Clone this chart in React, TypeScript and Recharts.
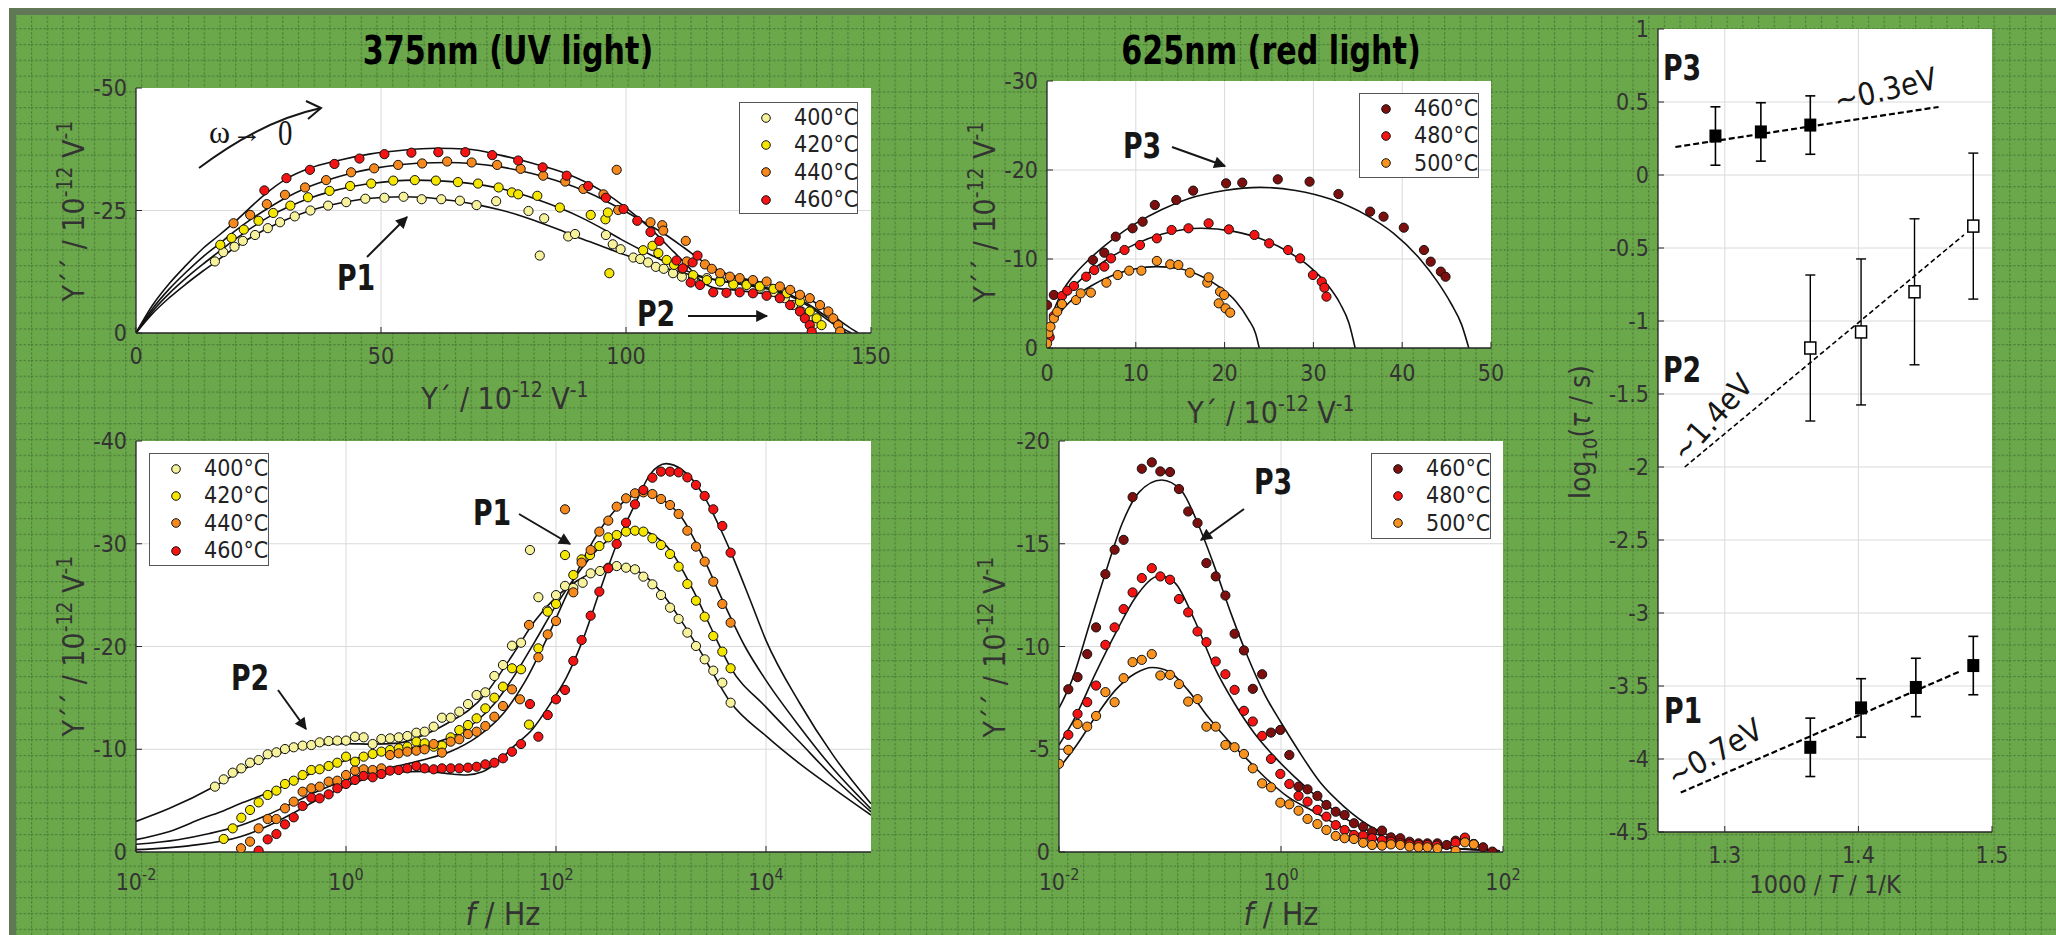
import React from 'react';
import {
  ComposedChart,
  Scatter,
  Line,
  XAxis,
  YAxis,
  ReferenceLine,
  Legend,
  ErrorBar,
  CartesianGrid,
} from 'recharts';

const NARROW = "'Liberation Sans Narrow', 'Arial Narrow', 'DejaVu Sans Condensed', sans-serif";
const SERIF = "'Liberation Serif', 'DejaVu Serif', serif";
const INK = '#161616';
const TICK = '#333';
const GRID = '#dadada';

// ---------- series meta ----------
const uvTemps = ['400°C', '420°C', '440°C', '460°C'];
const uvColors = ['#f6f29c', '#f4e600', '#f5891e', '#f41414'];
const redTemps = ['460°C', '480°C', '500°C'];
const redColors = ['#7d0f0f', '#f41414', '#f7931e'];

// ---------- 375 nm, Nyquist: [Y', Y''] / 1e-12 V^-1 ----------
const nyqUv400 = [[16.1,-14.6],[17.8,-16.5],[20.1,-17.6],[21.8,-18.8],[24.3,-20.0],[26.9,-21.4],[29.4,-22.6],[32.4,-23.8],[35.6,-25.0],[39.2,-26.0],[42.9,-26.7],[46.8,-27.4],[50.7,-27.6],[54.6,-27.8],[58.3,-27.3],[62.3,-27.3],[66.1,-27.0],[69.5,-26.1],[73.5,-26.9],[80.1,-24.9],[83.3,-23.4],[82.4,-15.8],[88.2,-19.7],[89.6,-20.2],[95.9,-20.0],[97.3,-18.1],[98.9,-17.1],[101.5,-15.4],[102.9,-15.1],[104.5,-14.4],[106.1,-13.5],[107.7,-13.1],[109.6,-12.2],[111.4,-11.5],[113.7,-11.2],[116.5,-11.2],[119.2,-10.8],[121.9,-10.3],[124.6,-9.9],[127.3,-9.1],[130.1,-8.4],[132.4,-7.1],[134.1,-5.7],[135.8,-4.4],[137.2,-3.0],[138.2,-1.6]];
const nyqUv420 = [[17.2,-18.0],[19.5,-19.4],[22.0,-21.1],[25.0,-22.9],[28.0,-24.5],[31.5,-26.0],[35.1,-27.7],[39.5,-29.0],[43.7,-30.0],[48.0,-30.5],[52.5,-31.1],[56.9,-31.2],[61.2,-31.1],[65.7,-30.8],[69.8,-30.5],[74.0,-29.7],[76.7,-28.7],[78.0,-28.3],[81.9,-28.0],[86.5,-25.6],[92.8,-24.1],[95.8,-23.2],[96.3,-24.6],[96.6,-12.2],[103.5,-16.9],[105.4,-17.8],[106.6,-16.3],[108.3,-14.9],[109.8,-13.9],[111.5,-13.1],[113.7,-11.8],[116.5,-10.8],[119.2,-10.5],[121.9,-9.9],[124.6,-9.8],[127.3,-9.5],[130.1,-9.0],[132.8,-8.1],[135.5,-6.4],[137.5,-4.4],[138.9,-3.0],[139.9,-1.6]];
const nyqUv440 = [[19.9,-22.4],[23.3,-24.1],[26.7,-26.3],[30.4,-28.2],[34.5,-29.7],[38.8,-31.2],[43.9,-32.8],[48.6,-33.6],[53.5,-34.3],[58.4,-34.6],[63.5,-35.0],[68.5,-34.8],[73.7,-34.3],[78.5,-33.5],[83.1,-32.1],[87.6,-30.9],[91.3,-29.4],[95.4,-28.3],[98.1,-33.3],[98.4,-25.1],[105.0,-22.6],[107.4,-22.0],[107.6,-20.9],[112.2,-18.8],[112.4,-14.6],[116.1,-14.0],[117.5,-13.1],[119.2,-12.2],[121.2,-11.5],[123.2,-11.2],[125.9,-10.8],[128.7,-10.5],[131.4,-9.5],[133.5,-8.8],[135.5,-7.8],[137.5,-7.1],[139.6,-5.7],[141.3,-4.4],[142.3,-3.0],[143.3,-1.6],[143.7,-0.3]];
const nyqUv460 = [[26.2,-29.1],[30.7,-31.6],[35.5,-33.3],[40.5,-34.5],[45.6,-35.6],[50.7,-36.5],[56.2,-36.8],[61.7,-36.9],[67.2,-36.9],[72.7,-36.3],[78.0,-35.2],[83.0,-33.8],[87.9,-32.1],[92.3,-30.0],[95.9,-27.6],[99.5,-25.3],[102.3,-22.9],[105.0,-20.6],[106.8,-18.8],[110.3,-14.8],[111.6,-13.2],[113.2,-10.3],[113.6,-14.4],[114.6,-15.8],[115.1,-9.8],[117.8,-8.3],[120.5,-8.2],[123.2,-8.3],[125.9,-8.1],[128.7,-7.6],[131.4,-7.1],[133.5,-5.7],[135.5,-4.4],[136.5,-3.0],[137.5,-1.6],[137.9,-0.3]];

const fitNyqUv400 = [[0,0],[3.4,-4.0],[6.8,-7.2],[10.2,-10.0],[13.6,-12.6],[16.1,-14.4],[20,-17.3],[24.3,-20.0],[29.4,-22.6],[35.6,-25.0],[42.9,-26.8],[50.7,-27.7],[54.6,-27.8],[58.3,-27.7],[62.3,-27.3],[66.1,-26.8],[70,-26.1],[74,-25.2],[78,-24.1],[82,-22.7],[86,-21.2],[90,-19.6],[94,-18.1],[98,-16.6],[102,-15.2],[106,-13.9],[110,-12.7],[114,-11.7],[118,-10.9],[122,-10.2],[126,-9.5],[130,-8.7],[134,-7.3],[138,-5.0],[141,-2.8],[143.5,-1.0],[145,0]];
const fitNyqUv420 = [[0,0],[3.4,-4.5],[6.8,-8.1],[10.2,-11.2],[13.6,-14.0],[17.2,-16.8],[19.5,-18.6],[22,-20.4],[25,-22.4],[28,-24.2],[31.5,-25.9],[35.1,-27.4],[39.5,-28.8],[43.7,-29.8],[48,-30.5],[52.5,-31.0],[56.9,-31.2],[61.2,-31.1],[65.7,-30.8],[69.8,-30.3],[74,-29.6],[78,-28.5],[82,-27.2],[86.5,-25.5],[91,-23.5],[95,-21.4],[99,-19.1],[103,-17.0],[107,-15.0],[111,-13.2],[115,-11.7],[119,-10.7],[123,-10.0],[127,-9.5],[131,-8.7],[135,-7.1],[139,-4.7],[142,-2.5],[144.5,-0.8],[146,0]];
const fitNyqUv440 = [[0,0],[3.4,-5.0],[6.8,-9.0],[10.2,-12.4],[13.6,-15.5],[17,-18.2],[19.9,-20.6],[23.3,-23.1],[26.7,-25.3],[30.4,-27.5],[34.5,-29.5],[38.8,-31.1],[43.9,-32.6],[48.6,-33.6],[53.5,-34.3],[58.4,-34.7],[63.5,-34.8],[68.5,-34.6],[73.7,-34.0],[78.5,-33.1],[83.1,-31.9],[87.6,-30.5],[91.3,-29.1],[95.4,-27.2],[98.4,-25.6],[102,-23.6],[105,-21.9],[108,-20.1],[112,-17.3],[116,-14.4],[120,-12.3],[124,-11.1],[128,-10.3],[132,-9.3],[136,-7.7],[140,-5.3],[143,-3.0],[145.5,-1.2],[147.4,0]];
const fitNyqUv460 = [[0,0],[3.4,-5.7],[6.8,-10.1],[10.2,-13.8],[13.6,-17.2],[17,-20.0],[20.4,-22.9],[26.2,-28.2],[30.6,-31.4],[35.4,-33.6],[40.8,-35.1],[47.6,-36.5],[54.4,-37.3],[61.2,-37.7],[68,-37.5],[74.3,-36.3],[81.1,-34.6],[87.9,-32.5],[94.7,-29.2],[100.1,-25.5],[104.9,-21.4],[109.7,-16.6],[112.4,-13.9],[115.1,-10.8],[118.5,-9.1],[121.9,-8.8],[125.3,-8.4],[128.7,-7.9],[132.1,-6.7],[135.5,-4.4],[137.5,-1.6],[138.5,0]];

// ---------- 375 nm, spectra: [log10(f / Hz), Y''] ----------
const bodeUv400 = [[-1.248,-6.36],[-1.165,-7.07],[-1.079,-7.72],[-0.997,-8.14],[-0.914,-8.69],[-0.832,-8.95],[-0.746,-9.51],[-0.663,-9.70],[-0.581,-10.02],[-0.498,-10.19],[-0.413,-10.35],[-0.330,-10.41],[-0.251,-10.67],[-0.165,-10.80],[-0.083,-10.84],[0.0,-10.84],[0.086,-11.22],[0.168,-11.16],[0.254,-10.51],[0.337,-11.0],[0.419,-11.06],[0.502,-11.16],[0.584,-11.29],[0.670,-11.61],[0.749,-11.71],[0.835,-12.20],[0.914,-13.07],[0.997,-13.07],[1.079,-13.66],[1.162,-14.40],[1.244,-15.28],[1.327,-15.54],[1.413,-17.13],[1.495,-18.20],[1.581,-20.08],[1.667,-20.37],[1.752,-29.39],[1.832,-24.8],[1.914,-23.5],[2.0,-25.0],[2.086,-25.9],[2.165,-25.7],[2.254,-26.2],[2.330,-27.12],[2.419,-27.35],[2.498,-27.67],[2.578,-27.83],[2.667,-27.67],[2.752,-27.51],[2.832,-26.80],[2.918,-26.05],[3.000,-25.01],[3.086,-23.78],[3.168,-22.68],[3.251,-21.35],[3.333,-20.05],[3.416,-18.75],[3.498,-17.65],[3.584,-16.48],[3.663,-14.53]];
const bodeUv420 = [[-1.165,-1.27],[-1.079,-2.30],[-0.997,-3.34],[-0.914,-4.09],[-0.832,-4.83],[-0.746,-5.55],[-0.663,-5.97],[-0.581,-6.62],[-0.498,-6.94],[-0.413,-7.49],[-0.330,-7.98],[-0.251,-8.05],[-0.165,-8.37],[-0.083,-8.69],[0.0,-9.28],[0.086,-8.79],[0.168,-9.28],[0.254,-9.54],[0.337,-9.77],[0.419,-9.93],[0.502,-10.09],[0.584,-10.25],[0.670,-10.74],[0.749,-10.58],[0.835,-10.25],[0.914,-10.35],[0.997,-11.16],[1.079,-11.87],[1.162,-12.36],[1.244,-13.01],[1.327,-13.98],[1.413,-15.02],[1.495,-16.09],[1.581,-17.88],[1.667,-17.78],[1.743,-12.4],[1.832,-19.82],[1.921,-23.39],[2.0,-24.14],[2.086,-28.90],[2.165,-26.96],[2.244,-28.48],[2.324,-28.90],[2.413,-29.78],[2.498,-30.62],[2.578,-30.85],[2.667,-31.18],[2.752,-31.27],[2.832,-31.18],[2.918,-30.53],[3.000,-29.88],[3.086,-29.00],[3.168,-27.77],[3.251,-26.08],[3.333,-24.46],[3.416,-22.90],[3.498,-21.02],[3.584,-19.50],[3.663,-17.88]];
const bodeUv440 = [[-1.0,-0.36],[-0.914,-1.01],[-0.832,-2.30],[-0.746,-3.21],[-0.663,-3.21],[-0.581,-4.25],[-0.498,-4.90],[-0.413,-5.87],[-0.330,-6.20],[-0.251,-6.36],[-0.165,-6.85],[-0.083,-6.94],[0.0,-7.49],[0.086,-7.92],[0.168,-8.05],[0.254,-7.98],[0.337,-8.14],[0.419,-9.44],[0.502,-9.60],[0.584,-9.77],[0.670,-9.86],[0.749,-9.99],[0.835,-10.51],[0.914,-9.67],[0.997,-10.74],[1.079,-10.97],[1.162,-11.48],[1.244,-11.71],[1.327,-12.26],[1.413,-13.17],[1.495,-14.21],[1.581,-15.83],[1.657,-14.86],[1.743,-22.1],[1.832,-18.95],[1.921,-21.18],[2.0,-22.48],[2.086,-33.35],[2.165,-25.27],[2.244,-28.16],[2.330,-29.39],[2.413,-31.18],[2.498,-32.25],[2.578,-33.61],[2.667,-34.42],[2.752,-34.91],[2.832,-35.0],[2.918,-34.84],[3.000,-34.36],[3.086,-33.77],[3.168,-32.90],[3.251,-31.27],[3.333,-29.72],[3.416,-28.26],[3.498,-26.31],[3.584,-24.14],[3.663,-22.32]];
const bodeUv460 = [[-0.832,-0.13],[-0.746,-1.23],[-0.663,-1.75],[-0.581,-2.69],[-0.498,-3.37],[-0.413,-4.48],[-0.330,-5.29],[-0.251,-5.22],[-0.165,-5.61],[-0.083,-6.20],[0.0,-6.62],[0.086,-7.01],[0.168,-7.40],[0.254,-7.27],[0.337,-7.59],[0.419,-7.92],[0.502,-7.98],[0.584,-8.14],[0.670,-8.37],[0.749,-8.14],[0.835,-8.05],[0.914,-8.14],[0.997,-8.14],[1.079,-8.14],[1.162,-8.21],[1.244,-8.30],[1.327,-8.53],[1.413,-8.69],[1.495,-9.12],[1.581,-9.76],[1.667,-10.51],[1.752,-14.4],[1.832,-11.22],[1.921,-13.33],[2.0,-14.86],[2.086,-15.77],[2.165,-18.59],[2.244,-20.63],[2.330,-23.00],[2.413,-25.34],[2.498,-27.61],[2.578,-29.98],[2.667,-32.05],[2.752,-33.84],[2.832,-35.23],[2.918,-36.43],[3.000,-37.02],[3.086,-37.02],[3.168,-36.95],[3.251,-36.46],[3.333,-35.72],[3.416,-34.65],[3.498,-33.35],[3.584,-31.73],[3.663,-29.13]];

const fitBodeUv400 = [[-2,-2.98],[-1.68,-4.25],[-1.25,-6.4],[-1.0,-7.9],[-0.75,-9.2],[-0.5,-10.0],[-0.25,-10.45],[0,-10.55],[0.25,-10.5],[0.5,-10.6],[0.79,-11.6],[1.02,-12.85],[1.17,-13.8],[1.33,-15.4],[1.49,-17.7],[1.62,-19.7],[1.8,-22.5],[2.0,-24.8],[2.2,-26.4],[2.4,-27.4],[2.6,-27.8],[2.8,-27.2],[3.0,-25.3],[3.2,-22.4],[3.4,-19.1],[3.66,-14.6],[4.0,-11.3],[4.32,-8.6],[4.64,-6.2],[5.0,-3.6]];
const fitBodeUv420 = [[-2,-1.2],[-1.68,-2.0],[-1.36,-3.3],[-1.17,-4.0],[-1.0,-4.75],[-0.83,-5.4],[-0.66,-6.1],[-0.41,-7.3],[-0.17,-8.3],[0,-8.9],[0.25,-9.4],[0.5,-9.9],[0.75,-10.4],[1.0,-11.2],[1.24,-12.7],[1.41,-14.4],[1.58,-16.8],[1.8,-20.5],[2.0,-24.0],[2.2,-27.0],[2.4,-29.5],[2.6,-31.0],[2.75,-31.4],[2.9,-31.0],[3.1,-29.2],[3.3,-25.6],[3.5,-21.3],[3.66,-18.0],[4.0,-14.1],[4.32,-10.7],[4.64,-7.3],[5.0,-3.9]];
const fitBodeUv440 = [[-2,-0.75],[-1.6,-1.2],[-1.3,-1.8],[-1.0,-2.6],[-0.75,-3.6],[-0.5,-4.8],[-0.25,-6.0],[0,-7.0],[0.25,-7.8],[0.5,-8.4],[0.75,-9.0],[1.0,-9.8],[1.25,-11.2],[1.5,-13.5],[1.7,-16.5],[1.9,-20.5],[2.1,-25.0],[2.3,-29.3],[2.5,-32.5],[2.7,-34.5],[2.85,-35.0],[3.0,-34.4],[3.2,-32.5],[3.4,-28.7],[3.6,-24.2],[3.8,-20.0],[4.0,-16.7],[4.32,-12.2],[4.64,-8.1],[5.0,-4.2]];
const fitBodeUv460 = [[-2,-0.23],[-1.5,-0.6],[-1.0,-1.5],[-0.75,-2.5],[-0.5,-3.8],[-0.25,-5.2],[0,-6.4],[0.25,-7.3],[0.5,-7.8],[0.75,-7.85],[0.95,-7.65],[1.15,-7.5],[1.3,-7.8],[1.47,-9.0],[1.6,-10.3],[1.78,-12.0],[1.95,-14.5],[2.1,-17.0],[2.25,-20.5],[2.42,-25.5],[2.58,-30.0],[2.75,-33.8],[2.9,-36.8],[3.05,-37.8],[3.2,-37.2],[3.4,-34.8],[3.55,-31.8],[3.66,-29.3],[3.85,-24.5],[4.0,-20.6],[4.32,-14.5],[4.64,-9.4],[5.0,-4.7]];

// ---------- 625 nm, Nyquist ----------
const nyqRed460 = [[0.01,-4.83],[0.77,-5.96],[5.17,-9.89],[6.45,-10.71],[7.74,-12.51],[9.64,-13.45],[10.77,-14.19],[12.14,-16.07],[14.56,-16.63],[16.46,-17.68],[20.17,-18.50],[21.99,-18.58],[25.99,-18.95],[29.57,-18.69],[32.82,-17.30],[36.39,-15.32],[37.9,-14.76],[40.18,-13.52],[42.45,-11.01],[43.21,-9.70],[44.35,-8.58],[44.88,-8.01]];
const nyqRed480 = [[0.3,-1.2],[0.77,-3.60],[1.68,-5.84],[2.29,-6.44],[3.04,-6.97],[4.41,-8.01],[5.32,-8.76],[6.45,-9.14],[7.21,-10.07],[8.73,-11.01],[10.47,-11.57],[12.37,-12.32],[14.03,-13.26],[15.93,-13.45],[18.20,-14.01],[20.48,-13.33],[23.36,-12.70],[25.02,-11.76],[27.15,-11.01],[28.51,-10.07],[29.95,-8.20],[30.94,-7.45],[31.24,-6.78],[31.47,-5.77]];
const nyqRed500 = [[0.01,-0.52],[0.16,-1.65],[0.39,-2.40],[0.77,-3.33],[1.15,-4.08],[1.68,-4.94],[3.27,-5.39],[3.80,-6.14],[4.94,-6.22],[6.69,-7.34],[7.97,-8.20],[9.26,-8.69],[10.63,-8.69],[12.37,-9.78],[13.88,-9.40],[14.79,-9.33],[16.08,-8.46],[18.05,-7.34],[18.20,-7.94],[19.49,-6.33],[19.95,-5.96],[19.34,-5.02],[20.10,-4.46],[20.63,-3.97]];

const fitNyqRed460 = [[0,0],[0.3,-2.5],[1,-4.8],[2,-6.8],[3.5,-8.7],[5,-10.2],[7.5,-12.3],[10,-14.0],[13,-15.6],[16,-16.8],[20,-17.7],[24,-18.05],[28,-17.7],[32,-16.7],[36,-14.9],[39,-12.9],[42,-10.0],[44,-7.4],[45.5,-5.0],[46.7,-2.6],[47.5,0]];
const fitNyqRed480 = [[0,0],[0.3,-2.2],[1,-4.2],[2,-5.8],[3.5,-7.4],[5,-8.7],[7.5,-10.4],[10,-11.7],[13,-12.8],[17.4,-13.45],[21,-13.1],[24,-12.3],[27,-10.9],[29.5,-9.2],[31.5,-7.2],[33,-5.0],[34,-2.8],[34.7,0]];
const fitNyqRed500 = [[0,0],[0.3,-1.8],[1,-3.3],[2,-4.6],[3.5,-6.0],[5,-7.0],[7.5,-8.2],[10,-8.9],[12.3,-9.14],[15,-8.9],[17.5,-8.0],[19.5,-6.8],[21.3,-5.2],[22.7,-3.2],[23.5,-1.6],[23.9,0]];

// ---------- 625 nm, spectra ----------
const bodeRed460 = [[-1.916,-7.92],[-1.833,-8.51],[-1.746,-9.63],[-1.666,-10.93],[-1.582,-13.52],[-1.499,-14.71],[-1.418,-15.19],[-1.337,-17.27],[-1.254,-18.65],[-1.164,-18.96],[-1.087,-18.52],[-1.0,-18.49],[-0.919,-17.66],[-0.836,-16.57],[-0.752,-16.01],[-0.672,-14.06],[-0.588,-13.41],[-0.501,-12.48],[-0.418,-10.62],[-0.334,-9.81],[-0.254,-7.94],[-0.170,-8.65],[-0.090,-5.81],[-0.006,-5.94],[0.075,-4.72],[0.158,-3.18],[0.239,-3.05],[0.328,-2.73],[0.409,-2.29],[0.493,-1.96],[0.573,-1.80],[0.657,-1.40],[0.740,-1.23],[0.821,-0.99],[0.910,-1.04],[0.991,-0.71],[1.075,-0.67],[1.158,-0.50],[1.239,-0.42],[1.319,-0.42],[1.409,-0.42],[1.493,-0.34],[1.573,-0.55],[1.657,-0.63],[1.737,-0.39],[1.821,-0.23],[1.904,-0.02]];
const bodeRed480 = [[-1.916,-5.70],[-1.833,-6.72],[-1.746,-7.29],[-1.666,-8.10],[-1.582,-10.08],[-1.499,-10.93],[-1.418,-11.82],[-1.337,-12.63],[-1.254,-13.33],[-1.164,-13.81],[-1.087,-13.41],[-1.0,-13.25],[-0.919,-12.31],[-0.836,-11.66],[-0.752,-10.73],[-0.672,-10.21],[-0.588,-9.27],[-0.501,-8.65],[-0.418,-7.89],[-0.334,-6.87],[-0.254,-6.35],[-0.170,-5.65],[-0.090,-4.53],[-0.006,-3.80],[0.075,-3.31],[0.158,-2.73],[0.239,-2.45],[0.328,-2.05],[0.409,-1.72],[0.493,-1.31],[0.573,-1.07],[0.657,-0.83],[0.740,-0.80],[0.821,-0.67],[0.910,-0.58],[0.991,-0.50],[1.075,-0.42],[1.158,-0.37],[1.239,-0.34],[1.319,-0.34],[1.403,-0.31],[1.573,-0.45],[1.657,-0.70],[1.737,-0.39]];
const bodeRed500 = [[-2.0,-4.29],[-1.916,-4.97],[-1.833,-6.23],[-1.746,-6.10],[-1.666,-6.62],[-1.582,-7.78],[-1.499,-7.29],[-1.418,-8.46],[-1.337,-9.24],[-1.254,-9.35],[-1.164,-9.63],[-1.087,-8.59],[-1.0,-8.62],[-0.919,-8.17],[-0.836,-7.32],[-0.752,-7.44],[-0.672,-6.10],[-0.588,-6.10],[-0.501,-5.21],[-0.418,-5.10],[-0.334,-4.77],[-0.254,-4.07],[-0.170,-3.34],[-0.090,-3.15],[-0.006,-2.40],[0.075,-2.32],[0.158,-2.01],[0.239,-1.61],[0.328,-1.36],[0.409,-1.07],[0.493,-0.78],[0.573,-0.67],[0.657,-0.63],[0.740,-0.45],[0.821,-0.34],[0.910,-0.31],[0.991,-0.37],[1.075,-0.34],[1.158,-0.26],[1.239,-0.23],[1.319,-0.23],[1.409,-0.18],[1.573,-0.06],[1.657,-0.47],[1.737,-0.37]];

const fitBodeRed460 = [[-2,-7.0],[-1.88,-8.4],[-1.73,-11.0],[-1.58,-13.6],[-1.43,-16.0],[-1.28,-17.5],[-1.075,-18.1],[-0.9,-17.6],[-0.75,-16.0],[-0.6,-13.9],[-0.45,-11.6],[-0.3,-9.5],[-0.15,-7.7],[0,-6.3],[0.15,-5.0],[0.36,-3.34],[0.57,-2.2],[0.81,-1.23],[1.1,-0.58],[1.4,-0.26],[1.97,-0.06]];
const fitBodeRed480 = [[-2,-5.2],[-1.85,-6.6],[-1.67,-8.7],[-1.49,-10.65],[-1.31,-12.4],[-1.09,-13.44],[-0.955,-13.1],[-0.78,-11.3],[-0.6,-9.0],[-0.42,-7.24],[-0.24,-5.78],[-0.06,-4.64],[0.12,-3.67],[0.36,-2.53],[0.6,-1.56],[0.84,-0.91],[1.13,-0.42],[1.55,-0.18],[1.97,-0.06]];
const fitBodeRed500 = [[-2,-4.07],[-1.85,-5.13],[-1.67,-6.59],[-1.49,-7.89],[-1.31,-8.7],[-1.16,-8.98],[-1.01,-8.78],[-0.84,-7.89],[-0.66,-6.59],[-0.48,-5.45],[-0.3,-4.48],[-0.12,-3.51],[0.06,-2.69],[0.3,-1.96],[0.54,-1.23],[0.78,-0.75],[1.07,-0.42],[1.55,-0.18],[1.97,-0.06]];

// ---------- Arrhenius: [1000/T, log10(tau/s)] ----------
const tauP3 = [[1.293,0.267],[1.327,0.295],[1.364,0.342]];
const errP3 = [0.2, 0.2, 0.2];
const tauP2 = [[1.364,-1.185],[1.402,-1.075],[1.442,-0.80],[1.486,-0.35]];
const errP2 = [0.5, 0.5, 0.5, 0.5];
const tauP1 = [[1.364,-3.92],[1.402,-3.65],[1.443,-3.51],[1.486,-3.36]];
const errP1 = [0.2, 0.2, 0.2, 0.2];
const lineP3 = [[1.263,0.192],[1.46,0.466]];
const lineP2 = [[1.27,-2.0],[1.479,-0.41]];
const lineP1 = [[1.267,-4.23],[1.476,-3.40]];

const xy = (a: number[][]) => a.map(([x, y]) => ({ x, y }));
const xye = (a: number[][], e: number[]) => a.map(([x, y], i) => ({ x, y, err: e[i] }));

// ---------- layout ----------
type Rect = { x0: number; y0: number; x1: number; y1: number };
const PAD_L = 110, PAD_T = 14, PAD_R = 40, PAD_B = 100;
const rA: Rect = { x0: 136, y0: 88, x1: 871, y1: 333 };
const rB: Rect = { x0: 136, y0: 441, x1: 871, y1: 852 };
const rC: Rect = { x0: 1047, y0: 81, x1: 1491, y1: 348 };
const rD: Rect = { x0: 1059, y0: 441, x1: 1503, y1: 852 };
const rE: Rect = { x0: 1658, y0: 29, x1: 1992, y1: 832 };

const axisLine = { stroke: '#262626', strokeWidth: 1.3 };
const tickFont = { fontSize: 23, fill: TICK, fontFamily: NARROW };
const xTickLine = { stroke: '#262626', transform: 'translate(0,-6)' };
const yTickLine = { stroke: '#262626', transform: 'translate(6,0)' };

function Panel({ r, children }: { r: Rect; children: React.ReactNode }) {
  return (
    <div style={{ position: 'absolute', left: r.x0 - PAD_L, top: r.y0 - PAD_T }}>
      <ComposedChart
        width={r.x1 - r.x0 + PAD_L + PAD_R}
        height={r.y1 - r.y0 + PAD_T + PAD_B}
        margin={{ top: PAD_T, right: PAD_R, bottom: 0, left: 0 }}
      >
        {children}
      </ComposedChart>
    </div>
  );
}

const PowTick = (p: any) => (
  <text x={p.x} y={p.y + 23} textAnchor="middle" fill={TICK} fontSize={23} fontFamily={NARROW}>
    10<tspan dy={-10} fontSize={16}>{p.payload.value}</tspan>
  </text>
);

const dot = (color: string) => (p: any) => (
  <circle cx={p.cx} cy={p.cy} r={4.6} fill={color} stroke="#111" strokeWidth={1} />
);

function LegendBox({ names, colors, w, h }: { names: string[]; colors: string[]; w: number; h: number }) {
  return (
    <div
      style={{
        width: w, height: h, boxSizing: 'border-box', border: '1.5px solid #555',
        background: '#fff', paddingTop: 1, fontFamily: NARROW, fontSize: 23, color: '#222', lineHeight: 1,
      }}
    >
      {names.map((n, i) => (
        <div key={n} style={{ height: 27.3, display: 'flex', alignItems: 'center' }}>
          <svg width={54} height={14} style={{ flex: 'none' }}>
            <circle cx={26} cy={7} r={4.3} fill={colors[i]} stroke="#111" strokeWidth={1} />
          </svg>
          <span>{n}</span>
        </div>
      ))}
    </div>
  );
}

function legendAt(r: Rect, bx: number, by: number, w: number, h: number, names: string[], colors: string[]) {
  return (
    <Legend
      layout="vertical"
      align="center"
      verticalAlign="middle"
      wrapperStyle={{ left: bx - (r.x0 - PAD_L), top: by - (r.y0 - PAD_T), width: w, height: h }}
      content={() => <LegendBox names={names} colors={colors} w={w} h={h} />}
    />
  );
}

const grid = (key: string, v: { x?: number; y?: number }) => (
  <ReferenceLine key={key} {...v} stroke={GRID} strokeWidth={1} ifOverflow="visible" />
);

function fits(list: number[][][]) {
  return list.map((d, i) => (
    <Line
      key={'fit' + i}
      data={xy(d)}
      dataKey="y"
      type="monotone"
      stroke="#111"
      strokeWidth={1.6}
      dot={false}
      legendType="none"
      isAnimationActive={false}
    />
  ));
}

function points(list: number[][][], names: string[], colors: string[]) {
  return list.map((d, i) => (
    <Scatter
      key={'pts' + i}
      name={names[i]}
      data={xy(d)}
      dataKey="y"
      fill={colors[i]}
      shape={dot(colors[i])}
      isAnimationActive={false}
    />
  ));
}

const filledSquare = (p: any) => <rect x={p.cx - 6} y={p.cy - 6.5} width={12} height={13} fill="#000" />;
const openSquare = (p: any) => (
  <rect x={p.cx - 5.5} y={p.cy - 6} width={11} height={12} fill="#fff" stroke="#000" strokeWidth={1.5} />
);

function NyquistUV() {
  return (
    <Panel r={rA}>
      <CartesianGrid fill="#fff" stroke="none" horizontal={false} vertical={false} />
      <XAxis type="number" dataKey="x" domain={[0, 150]} ticks={[0, 50, 100, 150]} interval={0}
        allowDataOverflow height={PAD_B} axisLine={axisLine} tickLine={xTickLine} tickSize={6} tickMargin={9} tick={tickFont} />
      <YAxis type="number" dataKey="y" domain={[-50, 0]} reversed ticks={[-50, -25, 0]} interval={0}
        allowDataOverflow width={PAD_L} axisLine={axisLine} tickLine={yTickLine} tickSize={6} tickMargin={3} tick={tickFont} />
      {grid('g1', { x: 50 })}
      {grid('g2', { x: 100 })}
      {grid('g3', { y: -25 })}
      {fits([fitNyqUv400, fitNyqUv420, fitNyqUv440, fitNyqUv460])}
      {points([nyqUv400, nyqUv420, nyqUv440, nyqUv460], uvTemps, uvColors)}
      {legendAt(rA, 739, 102, 119, 112, uvTemps, uvColors)}
    </Panel>
  );
}

function BodeUV() {
  return (
    <Panel r={rB}>
      <CartesianGrid fill="#fff" stroke="none" horizontal={false} vertical={false} />
      <XAxis type="number" dataKey="x" domain={[-2, 5]} ticks={[-2, 0, 2, 4]} interval={0}
        allowDataOverflow height={PAD_B} axisLine={axisLine} tickLine={xTickLine} tickSize={6} tickMargin={9} tick={PowTick} />
      <YAxis type="number" dataKey="y" domain={[-40, 0]} reversed ticks={[-40, -30, -20, -10, 0]} interval={0}
        allowDataOverflow width={PAD_L} axisLine={axisLine} tickLine={yTickLine} tickSize={6} tickMargin={3} tick={tickFont} />
      {grid('g1', { x: 0 })}
      {grid('g2', { x: 2 })}
      {grid('g3', { x: 4 })}
      {grid('g4', { y: -10 })}
      {grid('g5', { y: -20 })}
      {grid('g6', { y: -30 })}
      {fits([fitBodeUv400, fitBodeUv420, fitBodeUv440, fitBodeUv460])}
      {points([bodeUv400, bodeUv420, bodeUv440, bodeUv460], uvTemps, uvColors)}
      {legendAt(rB, 149, 453, 120, 113, uvTemps, uvColors)}
    </Panel>
  );
}

function NyquistRed() {
  return (
    <Panel r={rC}>
      <CartesianGrid fill="#fff" stroke="none" horizontal={false} vertical={false} />
      <XAxis type="number" dataKey="x" domain={[0, 50]} ticks={[0, 10, 20, 30, 40, 50]} interval={0}
        allowDataOverflow height={PAD_B} axisLine={axisLine} tickLine={xTickLine} tickSize={6} tickMargin={11} tick={tickFont} />
      <YAxis type="number" dataKey="y" domain={[-30, 0]} reversed ticks={[-30, -20, -10, 0]} interval={0}
        allowDataOverflow width={PAD_L} axisLine={axisLine} tickLine={yTickLine} tickSize={6} tickMargin={3} tick={tickFont} />
      {[10, 20, 30, 40].map((v) => grid('gx' + v, { x: v }))}
      {grid('gy1', { y: -10 })}
      {grid('gy2', { y: -20 })}
      {fits([fitNyqRed460, fitNyqRed480, fitNyqRed500])}
      {points([nyqRed460, nyqRed480, nyqRed500], redTemps, redColors)}
      {legendAt(rC, 1359, 93, 120, 85, redTemps, redColors)}
    </Panel>
  );
}

function BodeRed() {
  return (
    <Panel r={rD}>
      <CartesianGrid fill="#fff" stroke="none" horizontal={false} vertical={false} />
      <XAxis type="number" dataKey="x" domain={[-2, 2]} ticks={[-2, 0, 2]} interval={0}
        allowDataOverflow height={PAD_B} axisLine={axisLine} tickLine={xTickLine} tickSize={6} tickMargin={9} tick={PowTick} />
      <YAxis type="number" dataKey="y" domain={[-20, 0]} reversed ticks={[-20, -15, -10, -5, 0]} interval={0}
        allowDataOverflow width={PAD_L} axisLine={axisLine} tickLine={yTickLine} tickSize={6} tickMargin={3} tick={tickFont} />
      {grid('g1', { x: 0 })}
      {[-5, -10, -15].map((v) => grid('gy' + v, { y: v }))}
      {fits([fitBodeRed460, fitBodeRed480, fitBodeRed500])}
      {points([bodeRed460, bodeRed480, bodeRed500], redTemps, redColors)}
      {legendAt(rD, 1371, 453, 120, 86, redTemps, redColors)}
    </Panel>
  );
}

function Arrhenius() {
  const dashed = (d: number[][], w: number, dash: string, k: string) => (
    <Line key={k} data={xy(d)} dataKey="y" type="linear" stroke="#000" strokeWidth={w}
      strokeDasharray={dash} dot={false} legendType="none" isAnimationActive={false} />
  );
  return (
    <Panel r={rE}>
      <CartesianGrid fill="#fff" stroke="none" horizontal={false} vertical={false} />
      <XAxis type="number" dataKey="x" domain={[1.25, 1.5]} ticks={[1.3, 1.4, 1.5]} interval={0}
        allowDataOverflow height={PAD_B} axisLine={axisLine} tickLine={xTickLine} tickSize={6} tickMargin={9} tick={tickFont} />
      <YAxis type="number" dataKey="y" domain={[-4.5, 1]} interval={0}
        ticks={[1, 0.5, 0, -0.5, -1, -1.5, -2, -2.5, -3, -3.5, -4, -4.5]}
        allowDataOverflow width={PAD_L} axisLine={axisLine} tickLine={yTickLine} tickSize={6} tickMargin={3} tick={tickFont} />
      {grid('gx1', { x: 1.3 })}
      {grid('gx2', { x: 1.4 })}
      {[0.5, 0, -0.5, -1, -1.5, -2, -2.5, -3, -3.5, -4].map((v) => grid('gy' + v, { y: v }))}
      {dashed(lineP3, 2.2, '6 3', 'l3')}
      {dashed(lineP2, 1.6, '5 3', 'l2')}
      {dashed(lineP1, 2.2, '6 3', 'l1')}
      <Scatter data={xye(tauP3, errP3)} dataKey="y" shape={filledSquare} isAnimationActive={false} legendType="none">
        <ErrorBar dataKey="err" direction="y" width={5} stroke="#000" strokeWidth={1.6} isAnimationActive={false} />
      </Scatter>
      <Scatter data={xye(tauP2, errP2)} dataKey="y" shape={openSquare} isAnimationActive={false} legendType="none">
        <ErrorBar dataKey="err" direction="y" width={5} stroke="#000" strokeWidth={1.4} isAnimationActive={false} />
      </Scatter>
      <Scatter data={xye(tauP1, errP1)} dataKey="y" shape={filledSquare} isAnimationActive={false} legendType="none">
        <ErrorBar dataKey="err" direction="y" width={5} stroke="#000" strokeWidth={1.6} isAnimationActive={false} />
      </Scatter>
    </Panel>
  );
}

function Backdrop() {
  return (
    <svg width={2056} height={935} style={{ position: 'absolute', left: 0, top: 0 }}>
      <defs>
        <pattern id="bgGrid" x={15.3} y={12.3} width={15.7} height={15.8} patternUnits="userSpaceOnUse">
          <rect width={15.7} height={15.8} fill="#6ba84b" />
          <line x1={0} y1={0.6} x2={15.7} y2={0.6} stroke="#4b7b37" strokeWidth={1.2} strokeDasharray="2.2 2" />
          <line x1={0.6} y1={0} x2={0.6} y2={15.8} stroke="#4b7b37" strokeWidth={1.2} strokeDasharray="2.2 2" />
        </pattern>
      </defs>
      <rect width={2056} height={935} fill="#fff" />
      <rect x={9} y={8} width={2100} height={1000} fill="#607856" />
      <rect x={16} y={15} width={2100} height={1000} fill="url(#bgGrid)" />
    </svg>
  );
}

const SUP = { fontSize: 21 };

// condensed text: the narrow face is not installed, so squeeze horizontally
function Squeezed({ x, y, sx, children, ...rest }: any) {
  return (
    <text transform={`translate(${x},${y}) scale(${sx},1)`} {...rest}>
      {children}
    </text>
  );
}

function Annotations() {
  const lbl = { fill: '#333', fontFamily: NARROW, fontSize: 30 } as const;
  const big = { fill: INK, fontFamily: NARROW, fontSize: 35, fontWeight: 700 } as const;
  const ev = { fill: INK, fontFamily: NARROW, fontSize: 31 } as const;
  const arrow = (x1: number, y1: number, x2: number, y2: number) => (
    <line x1={x1} y1={y1} x2={x2} y2={y2} stroke={INK} strokeWidth={2} markerEnd="url(#ah)" />
  );
  const admittance = (primes: string) => (
    <>
      {'Y' + primes + ' / 10'}
      <tspan dy={-12} {...SUP}>-12</tspan>
      <tspan dy={12}> V</tspan>
      <tspan dy={-12} {...SUP}>-1</tspan>
    </>
  );
  return (
    <svg width={2056} height={935} style={{ position: 'absolute', left: 0, top: 0, pointerEvents: 'none' }}>
      <defs>
        <marker id="ah" viewBox="0 0 10 10" refX={9} refY={5} markerWidth={15} markerHeight={12}
          markerUnits="userSpaceOnUse" orient="auto">
          <path d="M0,0 L10,5 L0,10 z" fill={INK} />
        </marker>
      </defs>
      {/* titles */}
      <Squeezed x={508} y={64} sx={0.86} textAnchor="middle" fill="#000" fontFamily={NARROW} fontSize={39} fontWeight={700}>375nm (UV light)</Squeezed>
      <Squeezed x={1271} y={64} sx={0.86} textAnchor="middle" fill="#000" fontFamily={NARROW} fontSize={39} fontWeight={700}>625nm (red light)</Squeezed>

      {/* axis titles */}
      <text x={505} y={409} textAnchor="middle" {...lbl}>{admittance('\u00B4')}</text>
      <text transform="translate(84,211) rotate(-90)" textAnchor="middle" {...lbl}>{admittance('\u00B4\u00B4')}</text>
      <text x={1271} y={423} textAnchor="middle" {...lbl}>{admittance('\u00B4')}</text>
      <text transform="translate(995,212) rotate(-90)" textAnchor="middle" {...lbl}>{admittance('\u00B4\u00B4')}</text>
      <text transform="translate(84,646) rotate(-90)" textAnchor="middle" {...lbl}>{admittance('\u00B4\u00B4')}</text>
      <text transform="translate(1005,647) rotate(-90)" textAnchor="middle" {...lbl}>{admittance('\u00B4\u00B4')}</text>
      <text x={503} y={925} textAnchor="middle" {...lbl} fontSize={32}><tspan fontStyle="italic">f</tspan> / Hz</text>
      <text x={1281} y={925} textAnchor="middle" {...lbl} fontSize={32}><tspan fontStyle="italic">f</tspan> / Hz</text>
      <text transform="translate(1590,432) rotate(-90)" textAnchor="middle" {...lbl} fontSize={28}>
        log<tspan dy={7} fontSize={20}>10</tspan><tspan dy={-7}>(</tspan><tspan fontStyle="italic">τ</tspan> / s)
      </text>
      <text x={1825} y={893} textAnchor="middle" {...lbl} fontSize={25}>
        1000 / <tspan fontStyle="italic">T</tspan> / 1/K
      </text>

      {/* omega -> 0 */}
      <path d="M199,168 Q261,121 321,108" fill="none" stroke={INK} strokeWidth={2} />
      <path d="M306,101 L321,108 L308,119" fill="none" stroke={INK} strokeWidth={2} />
      <text x={209} y={143} fill={INK} fontFamily={SERIF} fontSize={32}>ω</text>
      <text x={232} y={142} fill={INK} fontFamily={SERIF} fontSize={30}>→</text>
      <Squeezed x={278} y={145} sx={0.8} fill={INK} fontFamily={SERIF} fontSize={36}>0</Squeezed>

      {/* peak labels */}
      <Squeezed x={337} y={290} sx={0.85} {...big}>P1</Squeezed>
      {arrow(367, 257, 407, 217)}
      <Squeezed x={637} y={326} sx={0.85} {...big}>P2</Squeezed>
      {arrow(688, 316, 767, 316)}
      <Squeezed x={1123} y={158} sx={0.85} {...big}>P3</Squeezed>
      {arrow(1172, 147, 1225, 166)}
      <Squeezed x={231} y={690} sx={0.85} {...big}>P2</Squeezed>
      {arrow(278, 690, 306, 729)}
      <Squeezed x={473} y={525} sx={0.85} {...big}>P1</Squeezed>
      {arrow(519, 514, 570, 544)}
      <Squeezed x={1254} y={494} sx={0.85} {...big}>P3</Squeezed>
      {arrow(1244, 509, 1201, 540)}
      <Squeezed x={1663} y={80} sx={0.85} {...big}>P3</Squeezed>
      <Squeezed x={1663} y={382} sx={0.85} {...big}>P2</Squeezed>
      <Squeezed x={1664} y={723} sx={0.85} {...big}>P1</Squeezed>

      {/* activation energies */}
      <text transform="translate(1888,100) rotate(-13)" textAnchor="middle" {...ev}>~0.3eV</text>
      <text transform="translate(1720,425) rotate(-48)" textAnchor="middle" {...ev}>~1.4eV</text>
      <text transform="translate(1720,762) rotate(-30)" textAnchor="middle" {...ev}>~0.7eV</text>
    </svg>
  );
}

export default function App() {
  return (
    <div style={{ position: 'absolute', left: 0, top: 0, width: 2056, height: 935, overflow: 'hidden' }}>
      <Backdrop />
      <NyquistUV />
      <BodeUV />
      <NyquistRed />
      <BodeRed />
      <Arrhenius />
      <Annotations />
    </div>
  );
}
